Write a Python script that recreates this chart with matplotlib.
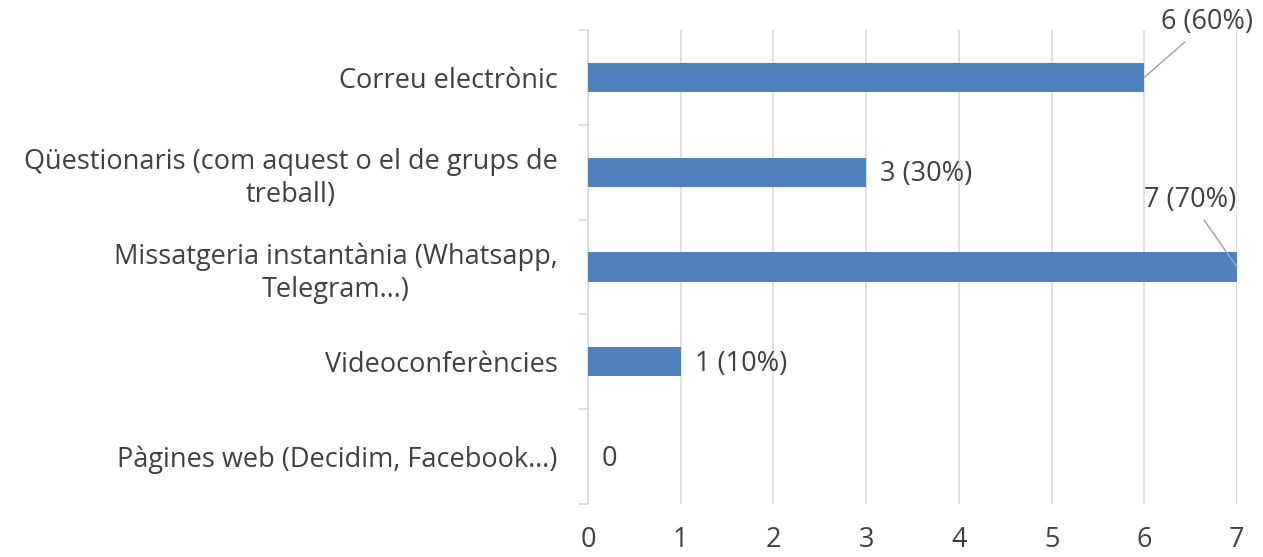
import numpy as np
import matplotlib
matplotlib.use('Agg')
import matplotlib.pyplot as plt
from matplotlib.ticker import FixedLocator

plt.rcParams['font.family'] = ['Open Sans', 'DejaVu Sans']

categories = ['Correu electrònic',
              'Qüestionaris (com aquest o el de grups de\ntreball)',
              'Missatgeria instantània (Whatsapp,\nTelegram…)',
              'Videoconferències',
              'Pàgines web (Decidim, Facebook…)']
values = [6, 3, 7, 1, 0]
labels = ['6 (60%)', '3 (30%)', '7 (70%)', '1 (10%)', '0']

TXT = '#404040'
GRID = '#d9d9d9'
BAR = '#4f81bd'
FS = 19.5

fig = plt.figure(figsize=(12.63, 5.57), dpi=100)
ax = fig.add_axes([588/1263, 1-504/557, (1237-588)/1263, (504-30)/557])

y = np.arange(len(categories))
ax.barh(y, values, height=0.31, color=BAR, zorder=3)
ax.set_ylim(len(categories)-0.5, -0.5)
ax.set_xlim(0, 7)

ax.set_yticks(y)
ax.set_yticklabels(categories, fontsize=FS, color=TXT, multialignment='center',
                   linespacing=1.25)
ax.tick_params(axis='y', which='major', length=0, pad=22)
ax.yaxis.set_minor_locator(FixedLocator(np.arange(-0.5, len(categories), 1)))
ax.tick_params(axis='y', which='minor', length=7.5, width=1.1, color=GRID)

ax.set_xticks(range(0, 8))
ax.tick_params(axis='x', length=0, pad=16, labelsize=FS, labelcolor=TXT)
ax.grid(axis='x', color=GRID, lw=1.1, zorder=0)

for s in ['top', 'right', 'bottom']:
    ax.spines[s].set_visible(False)
ax.spines['left'].set_color(GRID)
ax.spines['left'].set_linewidth(1.1)

# data labels (some with leader lines)
offsets = {0: (63, 55), 2: (-47, 67)}
for i, (v, lab) in enumerate(zip(values, labels)):
    if i in offsets:
        ax.annotate(lab, (v, i), xytext=offsets[i], textcoords='offset pixels',
                    ha='center', va='center', fontsize=FS, color=TXT,
                    arrowprops=dict(arrowstyle='-', color='#a6a6a6', lw=1.1,
                                    shrinkA=3, shrinkB=0), annotation_clip=False)
    else:
        ax.annotate(lab, (v, i), xytext=(14, -2), textcoords='offset pixels',
                    ha='left', va='center', fontsize=FS, color=TXT)

fig.savefig('out.png', dpi=100)
